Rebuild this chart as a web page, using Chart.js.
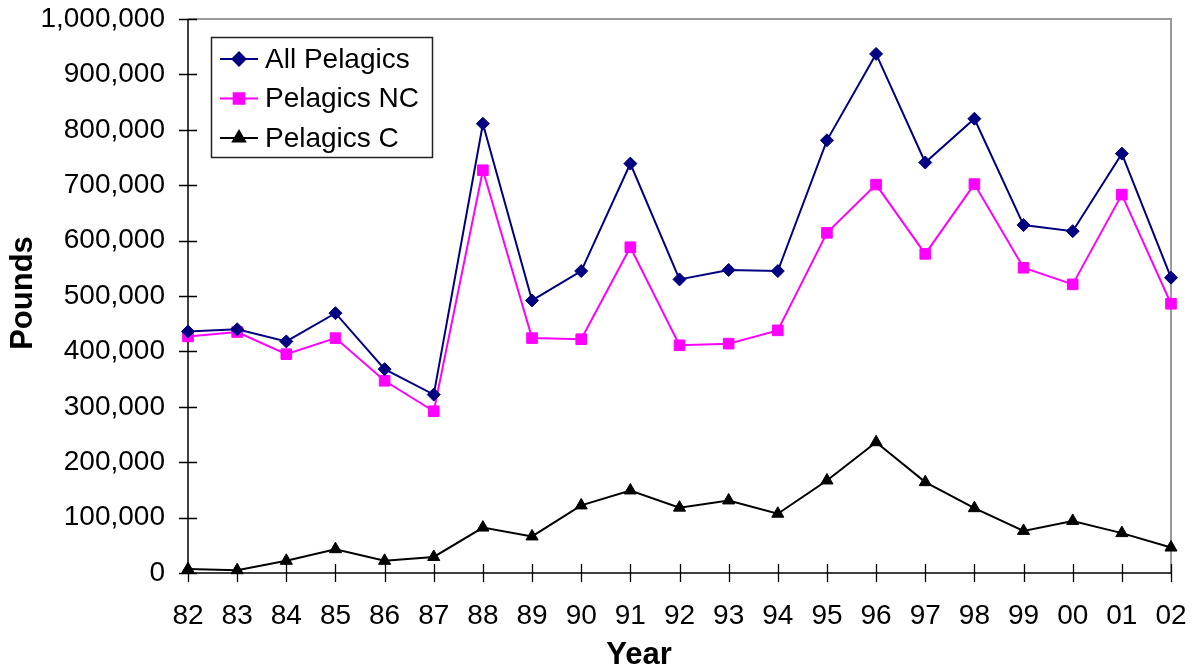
<!DOCTYPE html>
<html>
<head>
<meta charset="utf-8">
<script src="https://cdn.jsdelivr.net/npm/chart.js@4.4.1/dist/chart.umd.min.js"></script>
<style>
  html, body { margin: 0; padding: 0; background: #fff; }
  canvas { display: block; }
</style>
</head>
<body>
<canvas id="chart" width="1192" height="669"></canvas>
<script>
// Annual pelagic landings (pounds), 1982–2002
const years = ['82','83','84','85','86','87','88','89','90','91','92','93','94','95','96','97','98','99','00','01','02'];
const allPelagics = [436000, 440000, 418000, 469000, 368000, 322000, 811000, 492000, 545000, 739000, 530000, 547000, 545000, 781000, 937000, 741000, 820000, 628000, 617000, 757000, 533000];
const pelagicsNC  = [427000, 435000, 395000, 424000, 347000, 292000, 727000, 424000, 422000, 588000, 411000, 414000, 438000, 614000, 701000, 576000, 702000, 551000, 521000, 683000, 486000];
const pelagicsC   = [7000, 5000, 22000, 43000, 22000, 29000, 82000, 66000, 122000, 149000, 118000, 131000, 107000, 167000, 236000, 164000, 117000, 76000, 94000, 72000, 46000];
const seriesNames = ['All Pelagics', 'Pelagics NC', 'Pelagics C'];
const yMin = 0, yMax = 1000000, yStep = 100000;
const xTitle = 'Year', yTitle = 'Pounds';

const FONT = '"Liberation Sans", Arial, Helvetica, sans-serif';

// Axis lines, crossing tick marks, plot frame
const axesPlugin = {
  id: 'axes',
  beforeDatasetsDraw(chart) {
    const { ctx, chartArea: a, scales: { x, y } } = chart;
    ctx.save();
    // top and right frame
    ctx.strokeStyle = '#9a9a9a';
    ctx.lineWidth = 2;
    ctx.beginPath();
    ctx.moveTo(a.left, a.top); ctx.lineTo(a.right, a.top); ctx.lineTo(a.right, a.bottom);
    ctx.stroke();
    // axes
    ctx.strokeStyle = '#000';
    ctx.lineWidth = 1.5;
    ctx.beginPath();
    ctx.moveTo(a.left, a.top); ctx.lineTo(a.left, a.bottom); ctx.lineTo(a.right, a.bottom);
    ctx.stroke();
    ctx.lineWidth = 1.3;
    ctx.beginPath();
    y.ticks.forEach((t, i) => {
      const py = Math.round(y.getPixelForTick(i)) + 0.5;
      ctx.moveTo(a.left - 9, py); ctx.lineTo(a.left + 9, py);
    });
    x.ticks.forEach((t, i) => {
      const px = Math.round(x.getPixelForTick(i)) + 0.5;
      ctx.moveTo(px, a.bottom - 9); ctx.lineTo(px, a.bottom + 9);
    });
    ctx.stroke();
    ctx.restore();
  },
  afterDraw(chart) {
    const { ctx, chartArea: a } = chart;
    ctx.save();
    ctx.fillStyle = '#000';
    ctx.font = 'bold 31px ' + FONT;
    ctx.textAlign = 'center';
    ctx.textBaseline = 'middle';
    ctx.fillText(xTitle, 639, 655);
    ctx.translate(23, (a.top + a.bottom) / 2 - 3);
    ctx.rotate(-Math.PI / 2);
    ctx.fillText(yTitle, 0, 0);
    ctx.restore();
  }
};

// Boxed legend with line + marker samples
const legendPlugin = {
  id: 'boxLegend',
  afterDraw(chart) {
    const { ctx } = chart;
    const bx = 211.5, by = 37.5, bw = 221, bh = 120;
    ctx.save();
    ctx.fillStyle = '#fff';
    ctx.fillRect(bx, by, bw, bh);
    ctx.strokeStyle = '#222';
    ctx.lineWidth = 1.5;
    ctx.strokeRect(bx, by, bw, bh);
    chart.data.datasets.forEach((ds, i) => {
      const cy = 59 + i * 39.5;
      ctx.strokeStyle = ds.borderColor;
      ctx.lineWidth = 2;
      ctx.beginPath();
      ctx.moveTo(220, cy); ctx.lineTo(258, cy);
      ctx.stroke();
      ctx.fillStyle = ds.pointBackgroundColor;
      ctx.strokeStyle = ds.pointBorderColor;
      Chart.helpers.drawPoint(ctx, {
        pointStyle: ds.pointStyle, radius: ds.pointRadius, rotation: 0, borderWidth: ds.pointBorderWidth
      }, 239, cy);
      ctx.fillStyle = '#000';
      ctx.font = '28px ' + FONT;
      ctx.textAlign = 'left';
      ctx.textBaseline = 'middle';
      ctx.fillText(ds.label, 265, cy + 1);
    });
    ctx.restore();
  }
};

new Chart(document.getElementById('chart'), {
  type: 'line',
  data: {
    labels: years,
    datasets: [
      {
        label: seriesNames[0], data: allPelagics,
        borderColor: '#000080', backgroundColor: '#000080',
        pointBackgroundColor: '#000080', pointBorderColor: '#000080',
        pointStyle: 'rectRot', pointRadius: 6.5, pointBorderWidth: 1,
        borderWidth: 2, tension: 0, fill: false
      },
      {
        label: seriesNames[1], data: pelagicsNC,
        borderColor: '#ff00ff', backgroundColor: '#ff00ff',
        pointBackgroundColor: '#ff00ff', pointBorderColor: '#ff00ff',
        pointStyle: 'rect', pointRadius: 7.5, pointBorderWidth: 1,
        borderWidth: 2, tension: 0, fill: false
      },
      {
        label: seriesNames[2], data: pelagicsC,
        borderColor: '#000000', backgroundColor: '#000000',
        pointBackgroundColor: '#000000', pointBorderColor: '#000000',
        pointStyle: 'triangle', pointRadius: 7, pointBorderWidth: 1,
        borderWidth: 2, tension: 0, fill: false
      }
    ]
  },
  options: {
    responsive: false,
    animation: false,
    clip: false,
    layout: { padding: { top: 19, right: 21, bottom: 0, left: 0 } },
    plugins: { legend: { display: false }, tooltip: { enabled: false }, title: { display: false } },
    scales: {
      x: {
        type: 'category',
        offset: false,
        grid: { display: false, drawTicks: false },
        border: { display: false },
        ticks: {
          color: '#000', font: { family: FONT, size: 28 }, padding: 26,
          maxRotation: 0, autoSkip: false
        },
        afterFit(scale) {
          scale.height = 96;
          scale.paddingLeft = 0;
          scale.paddingRight = 0;
        }
      },
      y: {
        min: yMin, max: yMax,
        grid: { display: false, drawTicks: false },
        border: { display: false },
        ticks: {
          stepSize: yStep, color: '#000', font: { family: FONT, size: 28 }, padding: 23,
          callback: v => Number(v).toLocaleString('en-US')
        },
        afterFit(scale) {
          scale.width = 188;
          scale.paddingTop = 0;
          scale.paddingBottom = 0;
        }
      }
    }
  },
  plugins: [axesPlugin, legendPlugin]
});
</script>
</body>
</html>
